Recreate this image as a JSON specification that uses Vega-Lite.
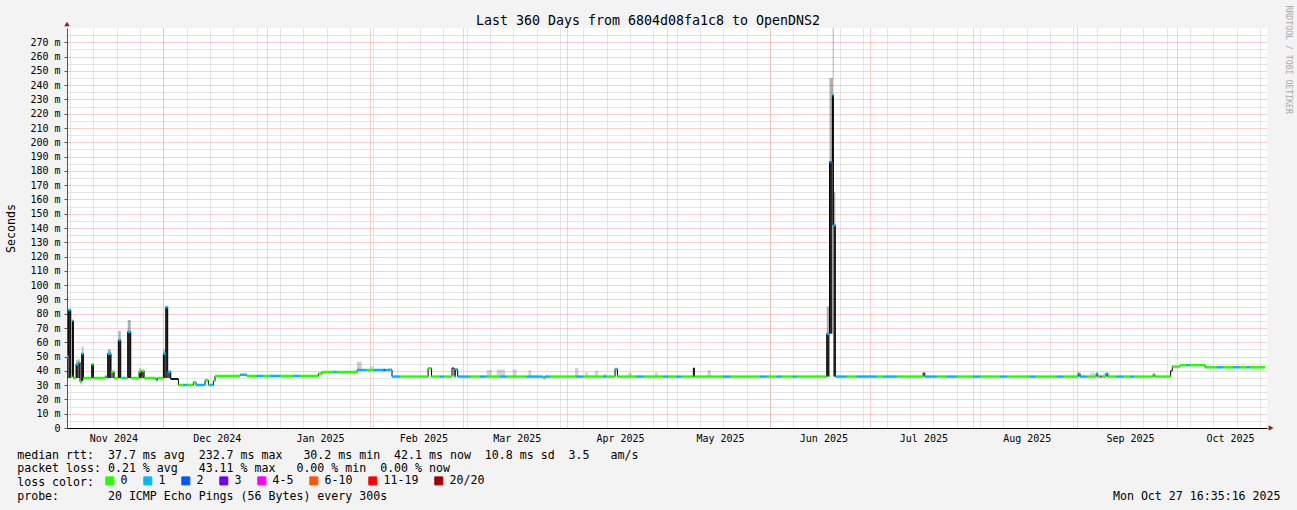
{
  "$schema": "https://vega.github.io/schema/vega-lite/v6.json",
  "width": 1200,
  "height": 400,
  "autosize": {"type": "none"},
  "padding": {"left": 67, "top": 28, "right": 30, "bottom": 82},
  "background": "#f3f3f3",
  "title": {"text": "Last 360 Days from 6804d08fa1c8 to OpenDNS2", "anchor": "middle", "frame": "group", "dx": -19, "dy": 22, "font": "DejaVu Sans Mono", "fontSize": 13.3, "fontWeight": "normal", "color": "#000000", "offset": 0},
  "config": {
    "view": {"fill": "#ffffff", "stroke": null},
    "font": "DejaVu Sans Mono"
  },
  "datasets": {
    "med": [
      {"t": "2024-11-02T02:00Z", "m": 50, "l": "1"},
      {"t": "2024-11-02T12:00Z", "m": 82.6, "l": "1"},
      {"t": "2024-11-03T05:00Z", "m": 36, "l": "0"},
      {"t": "2024-11-03T17:00Z", "m": 75, "l": "1"},
      {"t": "2024-11-04T00:00Z", "m": 35, "l": "0"},
      {"t": "2024-11-04T19:00Z", "m": 44.6, "l": "1"},
      {"t": "2024-11-05T12:00Z", "m": 46, "l": "0"},
      {"t": "2024-11-06T00:00Z", "m": 32.4, "l": "0"},
      {"t": "2024-11-06T12:00Z", "m": 52, "l": "1"},
      {"t": "2024-11-07T00:00Z", "m": 35, "l": "0"},
      {"t": "2024-11-09T12:00Z", "m": 44.6, "l": "0"},
      {"t": "2024-11-10T00:00Z", "m": 35, "l": "0"},
      {"t": "2024-11-13T12:00Z", "m": 36, "l": "1"},
      {"t": "2024-11-14T00:00Z", "m": 35, "l": "0"},
      {"t": "2024-11-14T07:00Z", "m": 52, "l": "1"},
      {"t": "2024-11-15T07:00Z", "m": 39.4, "l": "0"},
      {"t": "2024-11-16T05:00Z", "m": 35, "l": "0"},
      {"t": "2024-11-17T12:00Z", "m": 61.6, "l": "1"},
      {"t": "2024-11-18T05:00Z", "m": 35, "l": "0"},
      {"t": "2024-11-19T00:00Z", "m": 35, "l": "1"},
      {"t": "2024-11-19T12:00Z", "m": 35, "l": "0"},
      {"t": "2024-11-20T07:00Z", "m": 67.4, "l": "1"},
      {"t": "2024-11-21T05:00Z", "m": 35, "l": "0"},
      {"t": "2024-11-23T17:00Z", "m": 39.4, "l": "0"},
      {"t": "2024-11-24T05:00Z", "m": 35, "l": "0"},
      {"t": "2024-11-24T12:00Z", "m": 40, "l": "0"},
      {"t": "2024-11-25T05:00Z", "m": 35, "l": "0"},
      {"t": "2024-11-28T19:00Z", "m": 33.6, "l": "1"},
      {"t": "2024-11-29T06:00Z", "m": 35, "l": "0"},
      {"t": "2024-12-01T00:00Z", "m": 52, "l": "1"},
      {"t": "2024-12-01T17:00Z", "m": 84.6, "l": "1"},
      {"t": "2024-12-02T07:00Z", "m": 39.4, "l": "1"},
      {"t": "2024-12-03T05:00Z", "m": 34.3, "l": ""},
      {"t": "2024-12-05T12:00Z", "m": 30.1, "l": "0"},
      {"t": "2024-12-07T00:00Z", "m": 30.1, "l": "1"},
      {"t": "2024-12-08T00:00Z", "m": 30.1, "l": "0"},
      {"t": "2024-12-10T00:00Z", "m": 32, "l": "0"},
      {"t": "2024-12-10T19:00Z", "m": 30.1, "l": "1"},
      {"t": "2024-12-13T12:00Z", "m": 33.4, "l": "0"},
      {"t": "2024-12-14T12:00Z", "m": 30.1, "l": "0"},
      {"t": "2024-12-15T00:00Z", "m": 30.1, "l": "1"},
      {"t": "2024-12-16T00:00Z", "m": 33, "l": "0"},
      {"t": "2024-12-16T12:00Z", "m": 36.4, "l": "0"},
      {"t": "2024-12-24T00:00Z", "m": 37.3, "l": "1"},
      {"t": "2024-12-26T00:00Z", "m": 36.4, "l": "0"},
      {"t": "2024-12-29T00:00Z", "m": 36.4, "l": "1"},
      {"t": "2024-12-31T00:00Z", "m": 36.4, "l": "0"},
      {"t": "2025-01-02T00:00Z", "m": 36.4, "l": "1"},
      {"t": "2025-01-05T00:00Z", "m": 36.4, "l": "0"},
      {"t": "2025-01-09T00:00Z", "m": 36.4, "l": "1"},
      {"t": "2025-01-11T00:00Z", "m": 36.4, "l": "0"},
      {"t": "2025-01-16T12:00Z", "m": 38, "l": "0"},
      {"t": "2025-01-17T12:00Z", "m": 39.2, "l": "0"},
      {"t": "2025-01-21T00:00Z", "m": 39.2, "l": "1"},
      {"t": "2025-01-22T00:00Z", "m": 39.2, "l": "0"},
      {"t": "2025-01-28T02:00Z", "m": 40.6, "l": "1"},
      {"t": "2025-01-31T00:00Z", "m": 40.6, "l": "0"},
      {"t": "2025-02-02T00:00Z", "m": 40.6, "l": "1"},
      {"t": "2025-02-05T00:00Z", "m": 40.6, "l": "2"},
      {"t": "2025-02-05T12:00Z", "m": 40.6, "l": "1"},
      {"t": "2025-02-07T14:00Z", "m": 36, "l": "1"},
      {"t": "2025-02-10T00:00Z", "m": 36, "l": "0"},
      {"t": "2025-02-18T10:00Z", "m": 41.8, "l": "0"},
      {"t": "2025-02-19T10:00Z", "m": 36, "l": "0"},
      {"t": "2025-02-22T00:00Z", "m": 36, "l": "1"},
      {"t": "2025-02-23T00:00Z", "m": 36, "l": "0"},
      {"t": "2025-02-25T14:00Z", "m": 42, "l": ""},
      {"t": "2025-02-26T05:00Z", "m": 36, "l": "0"},
      {"t": "2025-02-26T14:00Z", "m": 41, "l": "1"},
      {"t": "2025-02-27T07:00Z", "m": 36, "l": "1"},
      {"t": "2025-03-03T00:00Z", "m": 36, "l": "0"},
      {"t": "2025-03-06T00:00Z", "m": 36, "l": "1"},
      {"t": "2025-03-08T00:00Z", "m": 36, "l": "0"},
      {"t": "2025-03-12T00:00Z", "m": 36, "l": "1"},
      {"t": "2025-03-14T00:00Z", "m": 36, "l": "0"},
      {"t": "2025-03-20T00:00Z", "m": 36, "l": "1"},
      {"t": "2025-03-24T22:00Z", "m": 35, "l": "0"},
      {"t": "2025-03-25T10:00Z", "m": 36, "l": "1"},
      {"t": "2025-03-27T00:00Z", "m": 36, "l": "0"},
      {"t": "2025-04-04T00:00Z", "m": 36, "l": "1"},
      {"t": "2025-04-06T00:00Z", "m": 36, "l": "0"},
      {"t": "2025-04-12T00:00Z", "m": 36, "l": "1"},
      {"t": "2025-04-13T00:00Z", "m": 36, "l": "0"},
      {"t": "2025-04-15T12:00Z", "m": 41.3, "l": "1"},
      {"t": "2025-04-16T05:00Z", "m": 36, "l": "0"},
      {"t": "2025-04-22T00:00Z", "m": 36, "l": "1"},
      {"t": "2025-04-24T00:00Z", "m": 36, "l": "0"},
      {"t": "2025-04-30T00:00Z", "m": 36, "l": "1"},
      {"t": "2025-05-01T12:00Z", "m": 36, "l": "0"},
      {"t": "2025-05-04T00:00Z", "m": 36, "l": "1"},
      {"t": "2025-05-05T12:00Z", "m": 36, "l": "0"},
      {"t": "2025-05-09T00:00Z", "m": 42, "l": ""},
      {"t": "2025-05-09T07:00Z", "m": 36, "l": "0"},
      {"t": "2025-05-18T00:00Z", "m": 36, "l": "1"},
      {"t": "2025-05-20T00:00Z", "m": 36, "l": "0"},
      {"t": "2025-05-29T00:00Z", "m": 36, "l": "1"},
      {"t": "2025-05-31T00:00Z", "m": 36, "l": "0"},
      {"t": "2025-06-03T00:00Z", "m": 36, "l": "1"},
      {"t": "2025-06-04T12:00Z", "m": 36, "l": "0"},
      {"t": "2025-06-08T00:00Z", "m": 36, "l": "1"},
      {"t": "2025-06-09T00:00Z", "m": 36, "l": "0"},
      {"t": "2025-06-18T00:00Z", "m": 66, "l": "1"},
      {"t": "2025-06-18T20:00Z", "m": 186, "l": "2"},
      {"t": "2025-06-19T17:00Z", "m": 233, "l": "1"},
      {"t": "2025-06-20T00:00Z", "m": 142, "l": "1"},
      {"t": "2025-06-20T14:00Z", "m": 36, "l": "1"},
      {"t": "2025-06-24T00:00Z", "m": 36, "l": "0"},
      {"t": "2025-06-27T00:00Z", "m": 36, "l": "1"},
      {"t": "2025-07-03T00:00Z", "m": 36, "l": "0"},
      {"t": "2025-07-05T00:00Z", "m": 36, "l": "1"},
      {"t": "2025-07-09T00:00Z", "m": 36, "l": "0"},
      {"t": "2025-07-16T22:00Z", "m": 38.5, "l": ""},
      {"t": "2025-07-17T10:00Z", "m": 36, "l": "1"},
      {"t": "2025-07-21T00:00Z", "m": 36, "l": "0"},
      {"t": "2025-07-24T00:00Z", "m": 36, "l": "1"},
      {"t": "2025-07-27T00:00Z", "m": 36, "l": "0"},
      {"t": "2025-08-01T00:00Z", "m": 36, "l": "1"},
      {"t": "2025-08-03T00:00Z", "m": 36, "l": "0"},
      {"t": "2025-08-09T00:00Z", "m": 36, "l": "1"},
      {"t": "2025-08-11T00:00Z", "m": 36, "l": "0"},
      {"t": "2025-08-18T00:00Z", "m": 36, "l": "1"},
      {"t": "2025-08-19T12:00Z", "m": 36, "l": "0"},
      {"t": "2025-08-26T00:00Z", "m": 36, "l": "1"},
      {"t": "2025-08-28T00:00Z", "m": 36, "l": "0"},
      {"t": "2025-09-01T12:00Z", "m": 38, "l": "1"},
      {"t": "2025-09-02T00:00Z", "m": 36, "l": "1"},
      {"t": "2025-09-04T00:00Z", "m": 36, "l": "0"},
      {"t": "2025-09-06T20:00Z", "m": 38, "l": "1"},
      {"t": "2025-09-07T08:00Z", "m": 36, "l": "0"},
      {"t": "2025-09-08T00:00Z", "m": 36, "l": "4-5"},
      {"t": "2025-09-08T12:00Z", "m": 36, "l": "0"},
      {"t": "2025-09-09T19:00Z", "m": 38, "l": "1"},
      {"t": "2025-09-10T07:00Z", "m": 36, "l": "0"},
      {"t": "2025-09-13T00:00Z", "m": 36, "l": "1"},
      {"t": "2025-09-15T00:00Z", "m": 36, "l": "0"},
      {"t": "2025-09-17T00:00Z", "m": 36, "l": "1"},
      {"t": "2025-09-18T00:00Z", "m": 36, "l": "0"},
      {"t": "2025-09-23T22:00Z", "m": 37.5, "l": "0"},
      {"t": "2025-09-24T10:00Z", "m": 36, "l": "0"},
      {"t": "2025-09-29T04:00Z", "m": 40, "l": ""},
      {"t": "2025-09-29T16:00Z", "m": 43, "l": "0"},
      {"t": "2025-10-02T00:00Z", "m": 44, "l": "0"},
      {"t": "2025-10-04T00:00Z", "m": 44, "l": "1"},
      {"t": "2025-10-05T00:00Z", "m": 44, "l": "0"},
      {"t": "2025-10-09T12:00Z", "m": 42.5, "l": "0"},
      {"t": "2025-10-13T00:00Z", "m": 42.5, "l": "1"},
      {"t": "2025-10-15T00:00Z", "m": 42.5, "l": "0"},
      {"t": "2025-10-18T00:00Z", "m": 42.5, "l": "1"},
      {"t": "2025-10-20T00:00Z", "m": 42.5, "l": "0"},
      {"t": "2025-10-22T00:00Z", "m": 42.5, "l": "1"},
      {"t": "2025-10-23T00:00Z", "m": 42.5, "l": "0"},
      {"t": "2025-10-27T12:00Z", "m": 42.5, "l": "0"}
    ],
    "smoke": [
      {"t": "2024-11-02T02:00Z", "t2": "2024-11-02T12:00Z", "lo": 35, "hi": 50, "d": 0.5},
      {"t": "2024-11-02T12:00Z", "t2": "2024-11-03T05:00Z", "lo": 35, "hi": 82.6, "d": 0.85},
      {"t": "2024-11-03T17:00Z", "t2": "2024-11-04T00:00Z", "lo": 36, "hi": 75, "d": 0.85},
      {"t": "2024-11-04T19:00Z", "t2": "2024-11-05T12:00Z", "lo": 35, "hi": 44.6, "d": 0.8},
      {"t": "2024-11-04T19:00Z", "t2": "2024-11-05T12:00Z", "lo": 44.6, "hi": 48, "d": 0.25},
      {"t": "2024-11-05T12:00Z", "t2": "2024-11-06T00:00Z", "lo": 35, "hi": 46, "d": 0.8},
      {"t": "2024-11-05T12:00Z", "t2": "2024-11-06T00:00Z", "lo": 46, "hi": 48, "d": 0.25},
      {"t": "2024-11-06T12:00Z", "t2": "2024-11-07T00:00Z", "lo": 33, "hi": 52, "d": 0.85},
      {"t": "2024-11-06T12:00Z", "t2": "2024-11-07T00:00Z", "lo": 52, "hi": 57, "d": 0.25},
      {"t": "2024-11-09T12:00Z", "t2": "2024-11-10T00:00Z", "lo": 35, "hi": 44.6, "d": 0.8},
      {"t": "2024-11-14T07:00Z", "t2": "2024-11-15T07:00Z", "lo": 35, "hi": 52, "d": 0.85},
      {"t": "2024-11-14T07:00Z", "t2": "2024-11-15T07:00Z", "lo": 52, "hi": 55, "d": 0.3},
      {"t": "2024-11-15T07:00Z", "t2": "2024-11-16T05:00Z", "lo": 35, "hi": 39.4, "d": 0.6},
      {"t": "2024-11-17T12:00Z", "t2": "2024-11-18T05:00Z", "lo": 35, "hi": 61.6, "d": 0.85},
      {"t": "2024-11-17T12:00Z", "t2": "2024-11-18T05:00Z", "lo": 61.6, "hi": 68, "d": 0.3},
      {"t": "2024-11-20T07:00Z", "t2": "2024-11-21T05:00Z", "lo": 35, "hi": 67.4, "d": 0.85},
      {"t": "2024-11-20T07:00Z", "t2": "2024-11-21T05:00Z", "lo": 67.4, "hi": 75.6, "d": 0.3},
      {"t": "2024-11-23T17:00Z", "t2": "2024-11-24T05:00Z", "lo": 35, "hi": 39.4, "d": 0.6},
      {"t": "2024-11-23T17:00Z", "t2": "2024-11-24T05:00Z", "lo": 39.4, "hi": 42, "d": 0.25},
      {"t": "2024-11-24T12:00Z", "t2": "2024-11-25T05:00Z", "lo": 35, "hi": 40, "d": 0.6},
      {"t": "2024-12-01T00:00Z", "t2": "2024-12-01T17:00Z", "lo": 35, "hi": 52, "d": 0.85},
      {"t": "2024-12-01T00:00Z", "t2": "2024-12-01T17:00Z", "lo": 52, "hi": 55, "d": 0.25},
      {"t": "2024-12-01T17:00Z", "t2": "2024-12-02T07:00Z", "lo": 35, "hi": 84.6, "d": 0.85},
      {"t": "2024-12-02T07:00Z", "t2": "2024-12-03T05:00Z", "lo": 35, "hi": 39.4, "d": 0.7},
      {"t": "2024-12-03T05:00Z", "t2": "2024-12-05T12:00Z", "lo": 33.6, "hi": 35, "d": 0.8},
      {"t": "2025-01-28T02:00Z", "t2": "2025-01-29T12:00Z", "lo": 40.6, "hi": 46.4, "d": 0.2},
      {"t": "2025-02-01T00:00Z", "t2": "2025-02-02T00:00Z", "lo": 40.6, "hi": 43.4, "d": 0.15},
      {"t": "2025-02-06T12:00Z", "t2": "2025-02-07T12:00Z", "lo": 40.6, "hi": 42, "d": 0.15},
      {"t": "2025-03-08T00:00Z", "t2": "2025-03-09T12:00Z", "lo": 36, "hi": 40.6, "d": 0.17},
      {"t": "2025-03-11T00:00Z", "t2": "2025-03-13T12:00Z", "lo": 36, "hi": 41, "d": 0.17},
      {"t": "2025-03-15T18:00Z", "t2": "2025-03-17T00:00Z", "lo": 36, "hi": 41, "d": 0.17},
      {"t": "2025-03-20T12:00Z", "t2": "2025-03-21T08:00Z", "lo": 36, "hi": 40.6, "d": 0.17},
      {"t": "2025-04-03T12:00Z", "t2": "2025-04-04T12:00Z", "lo": 36, "hi": 42, "d": 0.17},
      {"t": "2025-04-06T12:00Z", "t2": "2025-04-07T08:00Z", "lo": 36, "hi": 39, "d": 0.17},
      {"t": "2025-04-09T12:00Z", "t2": "2025-04-10T10:00Z", "lo": 36, "hi": 40, "d": 0.17},
      {"t": "2025-04-12T02:00Z", "t2": "2025-04-12T22:00Z", "lo": 36, "hi": 37.8, "d": 0.17},
      {"t": "2025-04-19T10:00Z", "t2": "2025-04-20T12:00Z", "lo": 36, "hi": 38.8, "d": 0.17},
      {"t": "2025-04-27T12:00Z", "t2": "2025-04-28T10:00Z", "lo": 36, "hi": 38.8, "d": 0.17},
      {"t": "2025-05-13T05:00Z", "t2": "2025-05-14T07:00Z", "lo": 36, "hi": 40.6, "d": 0.17},
      {"t": "2025-06-18T00:00Z", "t2": "2025-06-18T20:00Z", "lo": 36, "hi": 66, "d": 0.85},
      {"t": "2025-06-18T00:00Z", "t2": "2025-06-18T20:00Z", "lo": 66, "hi": 85, "d": 0.3},
      {"t": "2025-06-18T20:00Z", "t2": "2025-06-19T17:00Z", "lo": 66, "hi": 186, "d": 0.85},
      {"t": "2025-06-18T20:00Z", "t2": "2025-06-19T17:00Z", "lo": 186, "hi": 245, "d": 0.3},
      {"t": "2025-06-19T17:00Z", "t2": "2025-06-20T00:00Z", "lo": 142, "hi": 233, "d": 0.85},
      {"t": "2025-06-19T17:00Z", "t2": "2025-06-20T00:00Z", "lo": 233, "hi": 245, "d": 0.35},
      {"t": "2025-06-19T20:00Z", "t2": "2025-06-20T00:00Z", "lo": 245, "hi": 300, "d": 0.55},
      {"t": "2025-06-20T00:00Z", "t2": "2025-06-20T14:00Z", "lo": 36, "hi": 142, "d": 0.85},
      {"t": "2025-06-20T00:00Z", "t2": "2025-06-20T14:00Z", "lo": 142, "hi": 165, "d": 0.3},
      {"t": "2025-09-01T00:00Z", "t2": "2025-09-02T00:00Z", "lo": 36, "hi": 38.7, "d": 0.15},
      {"t": "2025-09-05T00:00Z", "t2": "2025-09-06T12:00Z", "lo": 36, "hi": 38.7, "d": 0.15},
      {"t": "2025-09-09T00:00Z", "t2": "2025-09-11T00:00Z", "lo": 36, "hi": 38.7, "d": 0.15}
    ]
  },
  "layer": [
    {
      "data": {"name": "smoke", "format": {"parse": {"t": "date", "t2": "date"}}},
      "mark": {"type": "rect", "color": "#000000", "clip": true},
      "encoding": {
        "x": {
          "field": "t", "type": "temporal",
          "scale": {"type": "utc", "domain": [{"year": 2024, "month": 11, "date": 2, "hours": 2, "utc": true}, {"year": 2025, "month": 10, "date": 28, "hours": 2, "utc": true}]},
          "axis": {"orient": "bottom", "tickCount": {"interval": "week", "step": 1}, "grid": true, "gridColor": "#cccccc", "gridDash": [1, 1], "gridWidth": 1, "labels": false, "ticks": false, "domain": false,
            "title": "Mon Oct 27 16:35:16 2025", "titleFont": "DejaVu Sans Mono", "titleFontSize": 11.6, "titleFontWeight": "normal", "titleColor": "#000000",
            "titleAlign": "right", "titleBaseline": "top", "titleX": 1213, "titleY": 62.4}
        },
        "x2": {"field": "t2"},
        "y": {
          "field": "lo", "type": "quantitative",
          "scale": {"domain": [0, 280], "nice": false},
          "axis": {"orient": "left", "values": [5, 15, 25, 35, 45, 55, 65, 75, 85, 95, 105, 115, 125, 135, 145, 155, 165, 175, 185, 195, 205, 215, 225, 235, 245, 255, 265, 275], "grid": true, "gridColor": "#cccccc", "gridDash": [1, 1], "labels": false, "ticks": false, "domain": false, "title": null}
        },
        "y2": {"field": "hi"},
        "opacity": {"field": "d", "type": "quantitative", "scale": null, "legend": null}
      }
    },
    {
      "data": {"name": "med", "format": {"parse": {"t": "date"}}},
      "mark": {"type": "line", "interpolate": "step-after", "color": "#000000", "strokeWidth": 1, "clip": true},
      "encoding": {
        "x": {
          "field": "t", "type": "temporal",
          "axis": {"orient": "bottom", "tickCount": {"interval": "month", "step": 1}, "grid": true, "gridColor": "#f0a0a0", "gridDash": [1, 1], "gridWidth": 1, "labels": false, "ticks": false, "domain": false, "title": null}
        },
        "y": {
          "field": "m", "type": "quantitative",
          "axis": {"orient": "left", "values": [0, 10, 20, 30, 40, 50, 60, 70, 80, 90, 100, 110, 120, 130, 140, 150, 160, 170, 180, 190, 200, 210, 220, 230, 240, 250, 260, 270], "labelExpr": "datum.value == 0 ? '0' : datum.value + ' m'", "grid": true, "gridColor": "#f0a0a0", "gridDash": [1, 1], "gridWidth": 1, "ticks": true, "tickSize": 3, "tickColor": "#555555", "domain": true, "domainColor": "#555555", "labelFont": "DejaVu Sans Mono", "labelFontSize": 10, "labelColor": "#000000", "labelPadding": 4, "title": "Seconds", "titleFont": "DejaVu Sans Mono", "titleFontSize": 11.6, "titleFontWeight": "normal", "titleColor": "#000000", "titlePadding": 13}
        }
      }
    },
    {
      "data": {"name": "med", "format": {"parse": {"t": "date"}}},
      "transform": [
        {"window": [{"op": "lead", "field": "t", "as": "t2"}]},
        {"filter": "datum.t2 != null && datum.l != ''"}
      ],
      "mark": {"type": "rule", "strokeWidth": 2.5, "strokeCap": "butt", "clip": true},
      "encoding": {
        "x": {
          "field": "t", "type": "temporal",
          "axis": {
            "orient": "bottom",
            "values": [{"year": 2024, "month": 11, "date": 16, "utc": true}, {"year": 2024, "month": 12, "date": 17, "utc": true}, {"year": 2025, "month": 1, "date": 17, "utc": true}, {"year": 2025, "month": 2, "date": 17, "utc": true}, {"year": 2025, "month": 3, "date": 17, "utc": true}, {"year": 2025, "month": 4, "date": 17, "utc": true}, {"year": 2025, "month": 5, "date": 17, "utc": true}, {"year": 2025, "month": 6, "date": 17, "utc": true}, {"year": 2025, "month": 7, "date": 17, "utc": true}, {"year": 2025, "month": 8, "date": 17, "utc": true}, {"year": 2025, "month": 9, "date": 17, "utc": true}, {"year": 2025, "month": 10, "date": 17, "utc": true}],
            "format": "%b %Y",
            "grid": false, "ticks": false, "domain": true, "domainColor": "#000000", "domainWidth": 1,
            "labelFont": "DejaVu Sans Mono", "labelFontSize": 10, "labelColor": "#000000", "labelPadding": 5, "labelOverlap": false, "labelFlush": false,
            "title": [
              "median rtt:\u00a0\u00a037.7 ms avg\u00a0\u00a0232.7 ms max\u00a0\u00a0\u00a030.2 ms min\u00a0\u00a042.1 ms now\u00a0\u00a010.8 ms sd\u00a0\u00a03.5\u00a0\u00a0\u00a0am/s",
              "packet loss: 0.21 % avg\u00a0\u00a0\u00a043.11 % max\u00a0\u00a0\u00a00.00 % min\u00a0\u00a00.00 % now",
              "loss color:",
              "probe:\u00a0\u00a0\u00a0\u00a0\u00a0\u00a0\u00a020 ICMP Echo Pings (56 Bytes) every 300s"
            ],
            "titleFont": "DejaVu Sans Mono", "titleFontSize": 11.6, "titleFontWeight": "normal", "titleColor": "#000000",
            "titleAnchor": "start", "titleAlign": "left", "titleBaseline": "top", "titleX": -50.3, "titleY": 21, "titleLineHeight": 13.8
          }
        },
        "x2": {"field": "t2"},
        "y": {
          "field": "m", "type": "quantitative",
          "axis": {"orient": "right", "labels": false, "ticks": false, "domain": false, "grid": false, "title": "RRDTOOL / TOBI OETIKER", "titleAngle": 90, "titleAlign": "left", "titleBaseline": "middle", "titleX": 20.5, "titleY": -23, "titleFont": "DejaVu Sans Mono", "titleFontSize": 8.2, "titleFontWeight": "normal", "titleColor": "#a8a8a8"}
        },
        "color": {
          "field": "l", "type": "nominal",
          "scale": {"domain": ["0", "1", "2", "3", "4-5", "6-10", "11-19", "20/20"], "range": ["#26ff00", "#00b8ff", "#0059ff", "#6e00ff", "#ff00ff", "#ff5500", "#ff0000", "#a10000"]},
          "legend": {
            "orient": "none", "legendX": 37, "legendY": 447, "direction": "horizontal", "title": null,
            "symbolType": "square", "symbolSize": 64, "symbolStrokeWidth": 1,
            "labelFont": "DejaVu Sans Mono", "labelFontSize": 11.6, "labelColor": "#000000", "labelOffset": 5, "columnPadding": 13, "padding": 0,
            "encode": {"symbols": {"update": {"fill": {"scale": "color", "field": "value"}, "stroke": {"value": "#000000"}, "strokeWidth": {"value": 1}, "opacity": {"value": 1}}}}
          }
        }
      }
    },
    {
      "data": {"values": [{}]},
      "mark": {"type": "point", "shape": "triangle-up", "filled": true, "color": "#8b1a1a", "size": 30, "opacity": 1, "yOffset": -4, "clip": false},
      "encoding": {
        "x": {"datum": {"year": 2024, "month": 11, "date": 2, "hours": 2, "utc": true}, "type": "temporal", "axis": null},
        "y": {"datum": 280, "type": "quantitative", "axis": null}
      }
    },
    {
      "data": {"values": [{}]},
      "mark": {"type": "point", "shape": "triangle-right", "filled": true, "color": "#8b1a1a", "size": 30, "opacity": 1, "xOffset": 4, "clip": false},
      "encoding": {
        "x": {"datum": {"year": 2025, "month": 10, "date": 28, "hours": 2, "utc": true}, "type": "temporal", "axis": null},
        "y": {"datum": 0, "type": "quantitative", "axis": null}
      }
    }
  ],
  "resolve": {"axis": {"x": "independent", "y": "independent"}}
}
